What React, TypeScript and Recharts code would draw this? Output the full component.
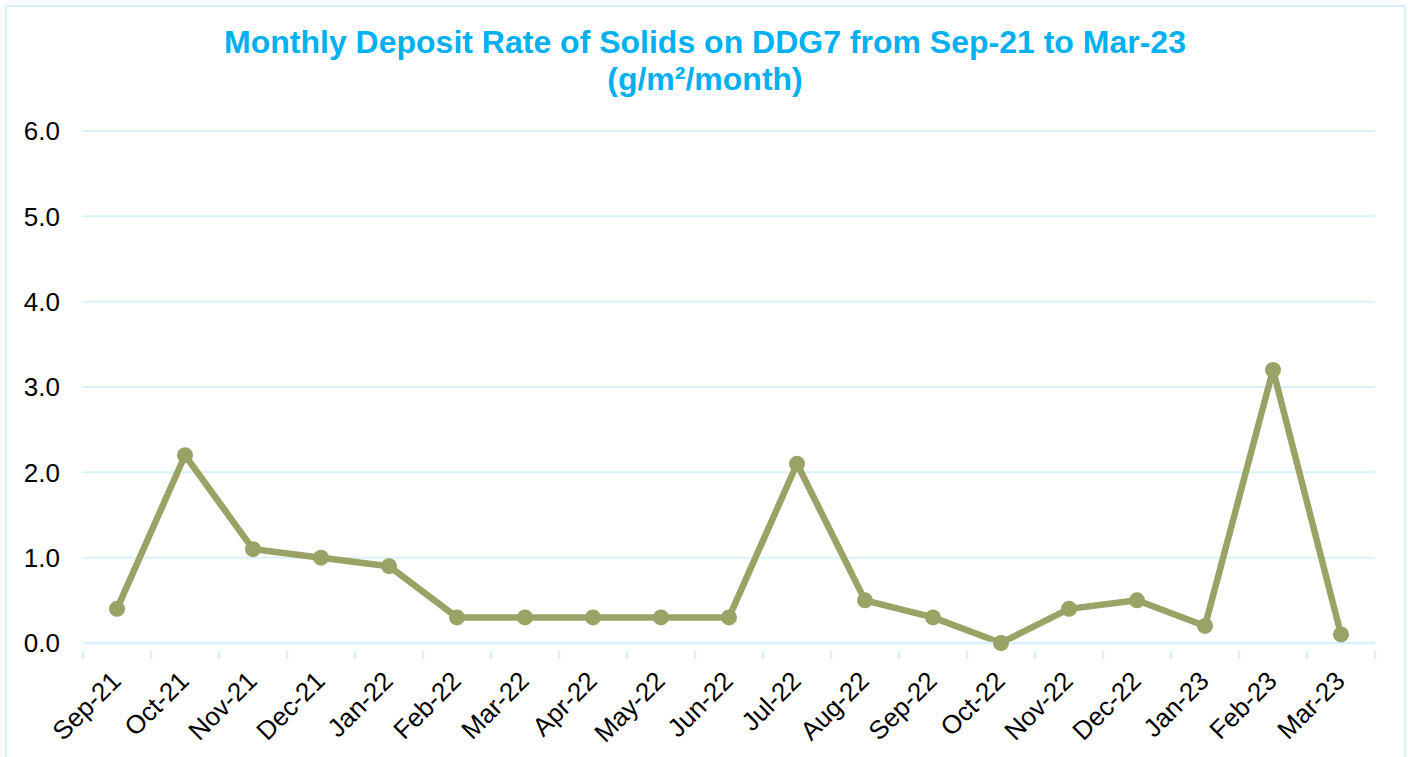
import { LineChart, Line, XAxis, YAxis, CartesianGrid } from 'recharts'

const months = [
  'Sep-21', 'Oct-21', 'Nov-21', 'Dec-21', 'Jan-22', 'Feb-22', 'Mar-22', 'Apr-22', 'May-22', 'Jun-22',
  'Jul-22', 'Aug-22', 'Sep-22', 'Oct-22', 'Nov-22', 'Dec-22', 'Jan-23', 'Feb-23', 'Mar-23',
]
const depositRate = [0.4, 2.2, 1.1, 1.0, 0.9, 0.3, 0.3, 0.3, 0.3, 0.3, 2.1, 0.5, 0.3, 0.0, 0.4, 0.5, 0.2, 3.2, 0.1]
const yTicks = [0, 1, 2, 3, 4, 5, 6]

const data = months.map((m, i) => ({ month: m, value: depositRate[i] }))

const W = 1408
const H = 757
const MARGIN = { top: 131, right: 33, bottom: 14, left: 23 }
const Y_AXIS_W = 60
const X_AXIS_H = 100
const PLOT_W = W - MARGIN.left - MARGIN.right - Y_AXIS_W
const BAND = PLOT_W / months.length

const GRID = '#d9f1fb'
const LINE = '#9ba265'
const FONT = 'Arial, "Liberation Sans", sans-serif'

function MonthTick(props: any) {
  const { x, y, payload, index } = props
  const last = index === months.length - 1
  return (
    <g>
      <line x1={x - BAND / 2} x2={x - BAND / 2} y1={y} y2={y + 8} stroke={GRID} strokeWidth={2.5} />
      {last && <line x1={x + BAND / 2} x2={x + BAND / 2} y1={y} y2={y + 8} stroke={GRID} strokeWidth={2.5} />}
      <g transform={`translate(${x - 1},${y + 25})`}>
        <text transform="rotate(-45)" textAnchor="end" dy="0.35em" fontSize={26} fill="#000" fontFamily={FONT}>
          {payload.value}
        </text>
      </g>
    </g>
  )
}

export default function App() {
  return (
    <div style={{ position: 'absolute', left: 0, top: 0, width: W, height: H, overflow: 'hidden', background: '#fff' }}>
      <div
        style={{
          position: 'absolute',
          left: 5,
          top: 5,
          width: 1397,
          height: 800,
          border: `2px solid ${GRID}`,
        }}
      />
      <div
        style={{
          position: 'absolute',
          left: 0,
          top: 24,
          width: 1410,
          textAlign: 'center',
          color: '#00b0f0',
          fontFamily: FONT,
          fontWeight: 'bold',
          fontSize: 32,
          lineHeight: '37px',
        }}
      >
        Monthly Deposit Rate of Solids on DDG7 from Sep-21 to Mar-23
        <br />
        (g/m²/month)
      </div>
      <div style={{ position: 'absolute', left: 0, top: 0 }}>
        <LineChart width={W} height={H} data={data} margin={MARGIN}>
          <CartesianGrid vertical={false} stroke={GRID} strokeWidth={2} />
          <XAxis
            dataKey="month"
            interval={0}
            height={X_AXIS_H}
            padding={{ left: BAND / 2, right: BAND / 2 }}
            axisLine={{ stroke: GRID, strokeWidth: 2.5 }}
            tickLine={false}
            tick={<MonthTick />}
          />
          <YAxis
            domain={[0, 6]}
            ticks={yTicks}
            width={Y_AXIS_W}
            axisLine={false}
            tickLine={false}
            tickMargin={17}
            tickFormatter={(v) => v.toFixed(1)}
            tick={{ fontSize: 26, fill: '#000', fontFamily: FONT }}
          />
          <Line
            type="linear"
            dataKey="value"
            stroke={LINE}
            strokeWidth={6.5}
            strokeLinejoin="round"
            dot={{ r: 8, fill: LINE, stroke: LINE, strokeWidth: 0 }}
            isAnimationActive={false}
          />
        </LineChart>
      </div>
    </div>
  )
}
